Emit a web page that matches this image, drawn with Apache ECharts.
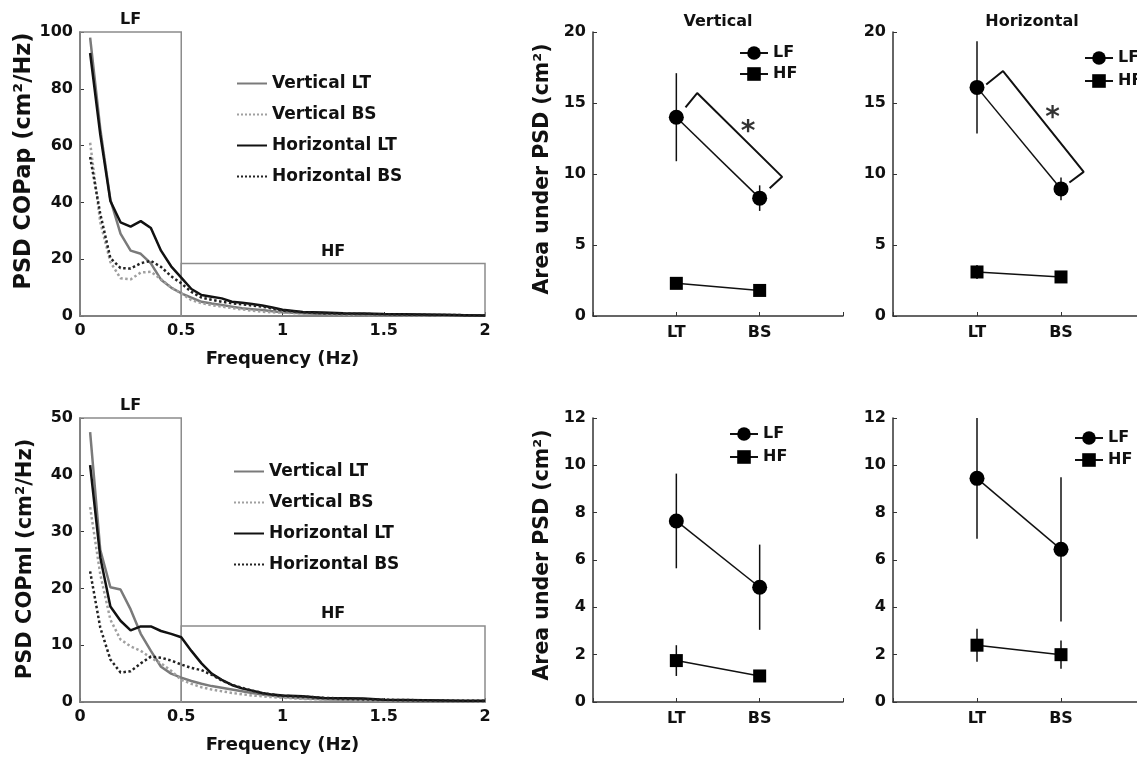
<!DOCTYPE html>
<html>
<head>
<meta charset="utf-8">
<script src="https://cdn.jsdelivr.net/npm/echarts@6/dist/echarts.min.js"></script>
<style>html,body{margin:0;background:#fff}#chart{width:1137px;height:757px}</style>
</head>
<body>
<div id="chart"></div>
<script>
/* 数据 */

// PSD 频率 (Hz)
const freq = [0.05,0.1,0.15,0.2,0.25,0.3,0.35,0.4,0.45,0.5,0.55,0.6,0.65,0.7,0.75,0.8,0.85,0.9,0.95,1.0,1.1,1.2,1.3,1.4,1.5,1.6,1.7,1.8,1.9,2.0]

// COPap
const vertLtAp = [98,66,41,29,23,21.9,18.5,12.8,10,8,6.5,5,4.4,3.9,3.3,2.7,2.4,2.1,1.7,1.3,1.0,0.7,0.55,0.45,0.35,0.3,0.25,0.2,0.15,0.1]
const vertBsAp = [61,33,19,13.3,12.9,15.3,15.6,13,10,8,5.6,4.5,3.8,3.3,2.8,2.3,1.9,1.5,1.3,1.2,0.9,0.7,0.5,0.4,0.35,0.3,0.25,0.2,0.15,0.1]
const horLtAp = [92.6,64,40.5,33,31.5,33.4,31,23,17.5,13.5,9.5,7.4,6.8,6.2,5.0,4.7,4.2,3.7,3.0,2.2,1.4,1.2,1.0,0.9,0.7,0.6,0.5,0.4,0.3,0.2]
const horBsAp = [56,36,20.4,16.9,16.7,18.6,19.4,17.3,14,11.5,8.5,6.5,5.7,5,4.5,4.1,3.7,3.3,2.6,1.9,1.3,0.9,0.8,0.7,0.6,0.5,0.4,0.35,0.3,0.2]

// COPml
const vertLtMl = [47.5,26.8,20.2,19.8,16.3,12,9,6.2,5,4.3,3.7,3.2,2.8,2.5,2.2,1.9,1.6,1.3,1.1,0.9,0.65,0.5,0.4,0.35,0.3,0.25,0.2,0.15,0.12,0.1]
const vertBsMl = [34.3,22.5,14.5,11,9.8,9,7.8,6.8,5.5,3.9,3.2,2.6,2.2,1.9,1.6,1.35,1.15,1.0,0.85,0.75,0.55,0.45,0.4,0.35,0.3,0.25,0.2,0.15,0.12,0.1]
const horLtMl = [41.7,25.5,16.8,14.3,12.6,13.3,13.3,12.5,12,11.4,9,6.8,5,3.9,3.0,2.4,2.0,1.6,1.3,1.15,1.0,0.7,0.65,0.6,0.4,0.35,0.3,0.25,0.2,0.2]
const horBsMl = [23,13.1,7.5,5.2,5.4,6.8,8,7.8,7.3,6.6,6.0,5.6,4.8,3.8,3.0,2.5,2.0,1.6,1.3,1.1,0.95,0.75,0.6,0.5,0.4,0.35,0.3,0.25,0.2,0.2]

// LF / HF 边界
const lfBand = [0, 0.5]
const hfBand = [0.5, 2]
const hfTopAp = 18.5
const hfTopMl = 13.4

// 面积 (均值, 误差)  顺序: LT, BS
const groups = ['LT', 'BS']
const lfVertAp = [14.0, 8.3],  lfVertApErr = [3.1, 0.9]
const hfVertAp = [2.3, 1.8],   hfVertApErr = [0.4, 0.2]
const lfHorAp = [16.1, 8.95],  lfHorApErr = [3.25, 0.8]
const hfHorAp = [3.1, 2.75],   hfHorApErr = [0.5, 0.4]
const lfVertMl = [7.65, 4.85], lfVertMlErr = [2.0, 1.8]
const hfVertMl = [1.75, 1.1],  hfVertMlErr = [0.65, 0.2]
const lfHorMl = [9.45, 6.45],  lfHorMlErr = [2.55, 3.05]
const hfHorMl = [2.4, 2.0],    hfHorMlErr = [0.7, 0.6]

// 显著性括号 + 星号
const bracketVert = [[1.11,14.7],[1.25,15.7],[2.27,9.8],[2.12,9.0]]
const starVert = [1.86, 13.3]
const bracketHor = [[1.11,16.3],[1.31,17.25],[2.27,10.15],[2.10,9.4]]
const starHor = [1.9, 14.3]

/* 样式 */
const FONT = 'DejaVu Sans'
const txt = (size) => ({fontFamily: FONT, fontWeight: 'bold', fontSize: size, color: '#111'})
const curveNames = ['Vertical LT', 'Vertical BS', 'Horizontal LT', 'Horizontal BS']
const curveStyles = [
    {color: '#7a7a7a', type: 'solid'},
    {color: '#a0a0a0', type: 'dotted'},
    {color: '#111', type: 'solid'},
    {color: '#222', type: 'dotted'}
]

const grids = [
    {left: 80, top: 32, width: 405, height: 284},
    {left: 80, top: 418, width: 405, height: 284},
    {left: 593, top: 32, width: 250, height: 284},
    {left: 893, top: 32, width: 252, height: 284},
    {left: 593, top: 418, width: 250, height: 284},
    {left: 893, top: 418, width: 252, height: 284}
].map(g => Object.assign(g, {outerBoundsMode: 'none', containLabel: false}))

const axisBase = {
    axisLine: {lineStyle: {color: '#333', width: 1.5}},
    axisTick: {inside: true, length: 4, lineStyle: {color: '#333'}},
    splitLine: {show: false},
    axisLabel: Object.assign(txt(16), {margin: 7})
}

const xAxes = [], yAxes = [], series = []

// PSD 面板
const psdPanel = (gi, curves, yMax, yStep, yName, hfTop, nameSize, nameShift) => {
    xAxes.push(Object.assign({}, axisBase, {
        gridIndex: gi, type: 'value', min: 0, max: 2, interval: 0.5,
        name: 'Frequency (Hz)', nameLocation: 'middle', nameGap: 34, nameTextStyle: txt(18)
    }))
    yAxes.push(Object.assign({}, axisBase, {
        gridIndex: gi, type: 'value', min: 0, max: yMax, interval: yStep,
        name: yName, nameLocation: 'middle', nameGap: 44,
        nameTextStyle: Object.assign(txt(nameSize), {padding: [0, 0, 0, nameShift]})
    }))
    curves.forEach((vals, i) => {
        const s = {
            name: curveNames[i], type: 'line', xAxisIndex: gi, yAxisIndex: gi,
            data: freq.map((f, k) => [f, vals[k]]),
            symbol: 'none', smooth: false,
            lineStyle: {color: curveStyles[i].color, type: curveStyles[i].type, width: 2.5},
            itemStyle: {color: curveStyles[i].color}, z: 3
        }
        if(i === 0){
            s.markArea = {
                silent: true,
                itemStyle: {color: 'rgba(0,0,0,0)', borderColor: '#8c8c8c', borderWidth: 1.5},
                label: Object.assign(txt(16), {position: 'top', distance: 3}),
                data: [
                    [{name: 'LF', coord: [lfBand[0], 0]}, {coord: [lfBand[1], yMax]}],
                    [{name: 'HF', coord: [hfBand[0], 0]}, {coord: [hfBand[1], hfTop]}]
                ]
            }
        }
        series.push(s)
    })
}

// 面积面板
const areaPanel = (gi, lf, lfErr, hf, hfErr, yMax, yStep, yName, bracket, star) => {
    xAxes.push(Object.assign({}, axisBase, {
        gridIndex: gi, type: 'value', min: 0, max: 3, interval: 1,
        axisLabel: Object.assign(txt(16), {margin: 9, formatter: v => groups[v - 1] || ''})
    }))
    yAxes.push(Object.assign({}, axisBase, {
        gridIndex: gi, type: 'value', min: 0, max: yMax, interval: yStep,
        name: yName || '', nameLocation: 'middle', nameGap: 40,
        nameTextStyle: Object.assign(txt(20.5), {padding: [0, 0, 0, 10]})
    }))
    const pts = arr => arr.map((v, k) => [k + 1, v])
    const bars = (arr, err) => arr.map((v, k) => [k + 1, v - err[k], v + err[k]])
    series.push({
        type: 'custom', xAxisIndex: gi, yAxisIndex: gi, z: 2,
        data: bars(lf, lfErr).concat(bars(hf, hfErr)),
        renderItem: (params, api) => {
            const a = api.coord([api.value(0), api.value(1)])
            const b = api.coord([api.value(0), api.value(2)])
            return {type: 'line', shape: {x1: a[0], y1: a[1], x2: b[0], y2: b[1]},
                style: {stroke: '#111', lineWidth: 1.5}}
        }
    })
    series.push({
        name: 'LF', type: 'line', xAxisIndex: gi, yAxisIndex: gi, data: pts(lf),
        symbol: 'circle', symbolSize: 15, lineStyle: {color: '#111', width: 1.5},
        itemStyle: {color: '#000'}, z: 4
    })
    series.push({
        name: 'HF', type: 'line', xAxisIndex: gi, yAxisIndex: gi, data: pts(hf),
        symbol: 'rect', symbolSize: 13, lineStyle: {color: '#111', width: 1.5},
        itemStyle: {color: '#000'}, z: 4
    })
    if(bracket){
        series.push({
            type: 'line', xAxisIndex: gi, yAxisIndex: gi, data: bracket, symbol: 'none',
            lineStyle: {color: '#111', width: 2}, z: 3
        })
        series.push({
            type: 'scatter', xAxisIndex: gi, yAxisIndex: gi, data: [star], symbolSize: 1,
            itemStyle: {color: 'rgba(0,0,0,0)'},
            label: Object.assign(txt(28), {show: true, position: 'inside', formatter: '*', offset: [0, 6], color: '#000'})
        })
    }
}

psdPanel(0, [vertLtAp, vertBsAp, horLtAp, horBsAp], 100, 20, 'PSD COPap (cm²/Hz)', hfTopAp, 22.5, 26)
psdPanel(1, [vertLtMl, vertBsMl, horLtMl, horBsMl], 50, 10, 'PSD COPml (cm²/Hz)', hfTopMl, 21, 2)
areaPanel(2, lfVertAp, lfVertApErr, hfVertAp, hfVertApErr, 20, 5, 'Area under PSD (cm²)', bracketVert, starVert)
areaPanel(3, lfHorAp, lfHorApErr, hfHorAp, hfHorApErr, 20, 5, '', bracketHor, starHor)
areaPanel(4, lfVertMl, lfVertMlErr, hfVertMl, hfVertMlErr, 12, 2, 'Area under PSD (cm²)')
areaPanel(5, lfHorMl, lfHorMlErr, hfHorMl, hfHorMlErr, 12, 2, '')

// 图例
const psdLegend = (left, top) => ({
    data: curveNames, left, top, padding: 0, orient: 'vertical', itemWidth: 30, itemHeight: 14, itemGap: 14,
    textStyle: txt(17), selectedMode: false, itemStyle: {opacity: 0}
})
const areaLegend = (left, top, gap) => ({
    data: ['LF', 'HF'], left, top, padding: 0, orient: 'vertical', itemWidth: 28, itemHeight: 17, itemGap: gap,
    textStyle: txt(16), selectedMode: false
})

const option = {
    animation: false,
    backgroundColor: '#fff',
    title: [
        {text: 'Vertical', left: 713, top: 9, textAlign: 'center', textStyle: txt(16)},
        {text: 'Horizontal', left: 1027, top: 9, textAlign: 'center', textStyle: txt(16)}
    ],
    legend: [psdLegend(236, 75), psdLegend(233, 463), areaLegend(739, 45, 5), areaLegend(1084, 50, 7),
        areaLegend(729, 426, 7), areaLegend(1074, 430, 6)],
    grid: grids,
    xAxis: xAxes,
    yAxis: yAxes,
    series
}

const myChart = echarts.init(document.getElementById('chart'))
myChart.setOption(option)
</script>
</body>
</html>
